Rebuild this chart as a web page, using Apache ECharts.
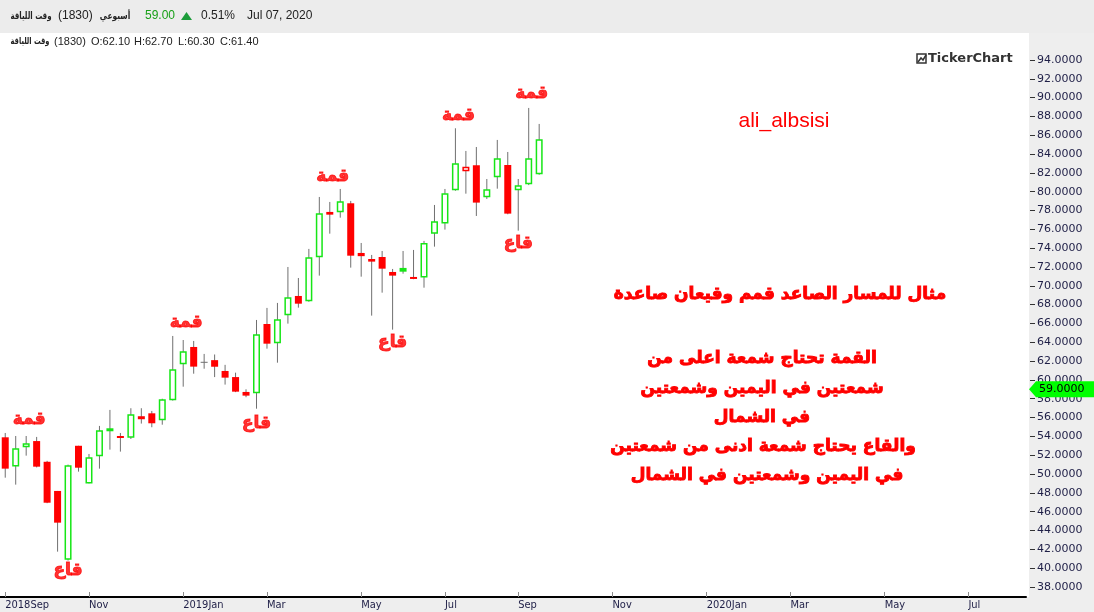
<!DOCTYPE html>
<html><head><meta charset="utf-8">
<script src="https://cdn.jsdelivr.net/npm/echarts@6/dist/echarts.min.js"></script>
<style>html,body{margin:0;padding:0;background:#fff;overflow:hidden}#c{width:1094px;height:612px}</style>
</head><body><div id="c"></div>
<script>
// ---- data ----
const WEEK_SLOTS = 98;
const monthTicks = [[0,'2018Sep'],[8,'Nov'],[17,'2019Jan'],[25,'Mar'],[34,'May'],[42,'Jul'],[49,'Sep'],[58,'Nov'],[67,'2020Jan'],[75,'Mar'],[84,'May'],[92,'Jul']];
const opens  = [53.9,50.8,52.84,53.5,51.3,48.2,40.9,53.0,49.0,51.9,54.65,54.04,53.86,55.88,56.45,55.7,57.84,61.66,63.5,61.87,62.10,60.95,60.3,58.72,58.58,65.94,63.89,66.87,68.92,68.36,73.03,77.85,77.82,78.77,73.49,72.85,73.06,71.47,71.90,70.94,70.87,75.54,76.63,80.15,82.17,82.81,79.41,81.53,82.84,80.15,80.79,81.85];
const highs  = [54.36,54.04,54.04,53.94,51.4,48.2,51.0,53.0,52.13,55.11,56.81,54.36,56.99,56.99,56.7,58.0,64.67,64.24,64.14,62.76,62.70,61.6,60.77,59.0,66.37,67.65,68.18,72.0,70.83,73.92,79.44,78.91,80.29,79.02,74.55,73.28,73.7,71.79,73.7,73.81,74.77,78.59,80.29,86.74,84.33,84.75,81.35,85.5,84.22,81.35,88.9,87.2];
const lows   = [49.61,48.87,51.95,50.7,46.9,41.75,40.8,50.25,49.0,50.57,52.59,52.38,53.72,55.36,54.97,55.24,57.8,59.28,60.66,61.19,60.30,59.5,58.7,58.16,56.94,63.32,61.83,65.98,67.68,68.3,71.08,75.54,77.24,71.93,70.97,66.83,69.27,65.34,71.29,70.7,69.8,74.16,75.97,80.1,79.79,77.42,79.23,80.32,77.6,75.86,80.7,81.8];
const closes = [50.57,52.74,53.27,50.78,46.95,44.83,50.93,50.67,51.78,54.65,54.86,53.86,56.35,56.14,55.39,57.94,61.13,63.04,61.41,61.87,61.40,60.24,58.75,58.33,64.85,63.85,66.44,68.78,68.10,73.03,77.71,77.56,78.98,73.2,73.15,72.57,71.82,71.08,71.5,70.73,74.55,76.86,79.83,83.02,82.66,78.84,80.26,83.55,77.67,80.68,83.55,85.57];
const yTicks = [38,40,42,44,46,48,50,52,54,56,58,60,62,64,66,68,70,72,74,76,78,80,82,84,86,88,90,92,94];
const lastPrice = 59.0;
const peakMarks   = [[2,55.8],[17,66.1],[31,81.57],[43,88.05],[50,90.39]];
const troughMarks = [[6,39.7],[24,55.32],[37,63.98],[49,74.45]];
const peakText = 'قمة', troughText = 'قاع';
const noteLines = ['مثال للمسار الصاعد قمم وقيعان صاعدة','القمة تحتاج شمعة اعلى من','شمعتين في اليمين وشمعتين','في الشمال','والقاع يحتاج شمعة ادنى من شمعتين','في اليمين وشمعتين في الشمال'];

// ---- chart ----
const GREEN = '#16e616', RED = '#ff0000', WICK = '#707070';
const cats = []; for (let i = 0; i < WEEK_SLOTS; i++) cats.push(String(i));
const tickMap = new Map(monthTicks);
const candleData = opens.map((o, i) => [i, o, closes[i], lows[i], highs[i]]);

function styleOf(i) {
  const o = opens[i], c = closes[i];
  if (o === c) return null;
  const prev = i > 0 ? closes[i - 1] : o;
  return { color: c >= prev ? GREEN : RED, filled: c < o };
}

const chart = echarts.init(document.getElementById('c'), null, { renderer: 'canvas' });
const AX_FONT = 'DejaVu Sans';
const markLabel = { show: true, position: 'inside', color: RED, fontSize: 17, fontWeight: 'bold', fontFamily: 'DejaVu Sans', textBorderColor: RED, textBorderWidth: 0.9 };
chart.setOption({
  animation: false,
  backgroundColor: '#ffffff',
  grid: { left: 0, right: 68, top: 40, bottom: 15, containLabel: false },
  xAxis: {
    type: 'category', data: cats, boundaryGap: true,
    axisLine: { lineStyle: { color: '#000', width: 2 } },
    axisTick: { show: true, inside: true, length: 5, alignWithLabel: true, interval: (i) => tickMap.has(i), lineStyle: { color: '#8a8a8a' } },
    axisLabel: { interval: (i) => tickMap.has(i), formatter: (v, i) => tickMap.get(i) || '', align: 'left', margin: 3,
      color: '#1e1e46', fontSize: 11, fontFamily: 'DejaVu Sans Condensed, Liberation Sans Narrow, DejaVu Sans' },
    splitLine: { show: false }
  },
  yAxis: {
    type: 'value', position: 'right', offset: 4, min: 36.93, max: 96.12, scale: true,
    splitLine: { show: false }, axisLine: { show: false },
    axisTick: { show: true, length: 5, customValues: yTicks, lineStyle: { color: '#333' } },
    axisLabel: { customValues: yTicks, formatter: (v) => v.toFixed(4), color: '#1e1e46', fontSize: 11, fontFamily: AX_FONT, margin: 7 }
  },
  series: [{
    type: 'custom', data: candleData, encode: { x: 0, y: [1, 2, 3, 4] }, z: 3,
    renderItem: function (params, api) {
      const i = api.value(0);
      const o = api.value(1), c = api.value(2), l = api.value(3), h = api.value(4);
      const top = api.coord([i, Math.max(o, c)]);
      const bot = api.coord([i, Math.min(o, c)]);
      const hi = api.coord([i, h]), lo = api.coord([i, l]);
      const x = top[0];
      const children = [{ type: 'line', shape: { x1: x, y1: hi[1], x2: x, y2: lo[1] }, style: { stroke: WICK, lineWidth: 1 } }];
      const s = styleOf(i);
      if (!s) {
        children.push({ type: 'line', shape: { x1: x - 3.5, y1: top[1], x2: x + 3.5, y2: top[1] }, style: { stroke: WICK, lineWidth: 1 } });
      } else if (s.filled) {
        children.push({ type: 'rect', shape: { x: x - 3.5, y: top[1], width: 7, height: Math.max(2, bot[1] - top[1]) }, style: { fill: s.color } });
      } else {
        children.push({ type: 'rect', shape: { x: x - 2.75, y: top[1] + 0.75, width: 5.5, height: Math.max(1.5, bot[1] - top[1] - 1.5) }, style: { fill: '#fff', stroke: s.color, lineWidth: 1.5 } });
      }
      return { type: 'group', children };
    }
  }, {
    type: 'scatter', data: peakMarks, symbolSize: 1, itemStyle: { color: 'transparent' }, z: 5, silent: true,
    label: Object.assign({ offset: [3, 0], formatter: peakText }, markLabel)
  }, {
    type: 'scatter', data: troughMarks, symbolSize: 1, itemStyle: { color: 'transparent' }, z: 5, silent: true,
    label: Object.assign({ formatter: troughText }, markLabel)
  }]
});

const py = chart.convertToPixel({ yAxisIndex: 0 }, lastPrice);
const HF = 'Liberation Sans';
function txt(x, y, text, opt, extra) {
  return Object.assign({ type: 'text', x: x, y: y, z: 100, style: Object.assign({ text: text, fill: '#222', font: '12px ' + HF, textVerticalAlign: 'middle', textAlign: 'left' }, opt || {}) }, extra || {});
}
const AR_SMALL = 'bold 10px DejaVu Sans';
const g = [
  { type: 'rect', z: -100, shape: { x: 0, y: 0, width: 1094, height: 33 }, style: { fill: '#ececec' } },
  { type: 'rect', z: -100, shape: { x: 1029, y: 33, width: 65, height: 579 }, style: { fill: '#eeeeee' } },
  { type: 'rect', z: -100, shape: { x: 0, y: 597, width: 1094, height: 15 }, style: { fill: '#eeeeee' } },
  txt(31, 16, 'وقت اللياقة', { textAlign: 'center', font: AR_SMALL }, { scaleX: 0.7 }),
  txt(58, 16, '(1830)'),
  txt(115, 16, 'أسبوعي', { textAlign: 'center', font: AR_SMALL }, { scaleX: 0.75 }),
  txt(145, 16, '59.00', { fill: '#17a017' }),
  { type: 'polygon', z: 100, shape: { points: [[181, 20], [186.5, 12], [192, 20]] }, style: { fill: '#1c9c3a' } },
  txt(201, 16, '0.51%'),
  txt(247, 16, 'Jul 07, 2020'),
  txt(30, 42, 'وقت اللياقة', { textAlign: 'center', font: 'bold 9.5px DejaVu Sans' }, { scaleX: 0.7 }),
  txt(54, 42, '(1830)', { font: '11px ' + HF }),
  txt(91, 42, 'O:62.10', { font: '11px ' + HF }),
  txt(134, 42, 'H:62.70', { font: '11px ' + HF }),
  txt(178, 42, 'L:60.30', { font: '11px ' + HF }),
  txt(220, 42, 'C:61.40', { font: '11px ' + HF }),
  { type: 'rect', z: 100, shape: { x: 917, y: 54, width: 9, height: 9 }, style: { fill: '#fff', stroke: '#333', lineWidth: 1.5 } },
  { type: 'polyline', z: 101, shape: { points: [[918, 62], [921, 58], [923, 60], [926, 55]] }, style: { stroke: '#333', lineWidth: 1.5, fill: null } },
  txt(928, 59, 'TickerChart', { font: 'bold 13px DejaVu Sans', fill: '#333' }),
  txt(784, 121, 'ali_albsisi', { font: '21px ' + HF, fill: RED, textAlign: 'center' }),
  { type: 'polygon', z: 100, shape: { points: [[1029, py], [1036, py - 8], [1094, py - 8], [1094, py + 8], [1036, py + 8]] }, style: { fill: '#00ff00' } },
  txt(1039, py, lastPrice.toFixed(4), { font: '11px ' + AX_FONT, fill: '#000' })
];
const noteCenters = [[780, 295], [762, 359], [762, 389], [762, 418], [763, 447], [767, 476]];
noteLines.forEach((t, k) => g.push(txt(noteCenters[k][0], noteCenters[k][1], t, { font: 'bold 17px DejaVu Sans', fill: RED, textAlign: 'center', stroke: RED, lineWidth: 0.9 })));
chart.setOption({ graphic: g });
</script>
</body></html>
